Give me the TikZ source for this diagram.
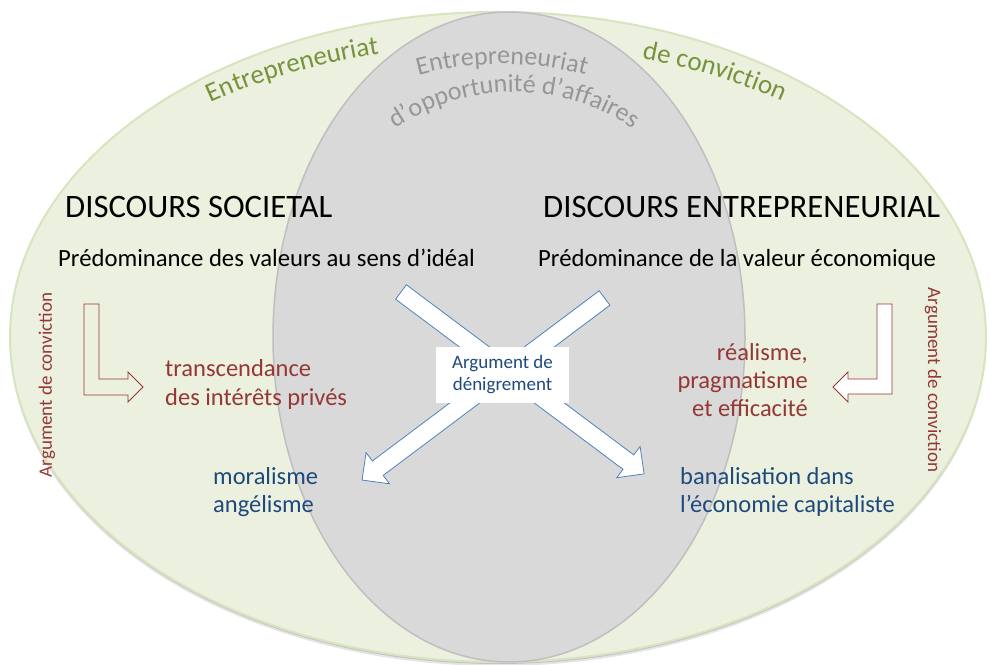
\documentclass[tikz,border=0pt]{standalone}
\usepackage{fontspec}
\setmainfont{Carlito}
\usetikzlibrary{decorations.text}
\definecolor{outerfill}{HTML}{EBF1DE}
\definecolor{outerline}{HTML}{D7E4BD}
\definecolor{innerfill}{HTML}{D9D9D9}
\definecolor{innerline}{HTML}{BFBFBF}
\definecolor{greentxt}{HTML}{77933C}
\definecolor{graytxt}{HTML}{969696}
\definecolor{redtxt}{HTML}{953735}
\definecolor{bluetxt}{HTML}{1F497D}
\definecolor{arrowblue}{HTML}{4F81BD}
\tikzset{
  title/.style={inner sep=0pt, anchor=base west, font=\fontsize{32.7}{38}\selectfont, text=black},
  sub/.style={inner sep=0pt, font=\fontsize{24.7}{29}\selectfont, text=black},
  redlbl/.style={inner sep=0pt, font=\fontsize{24.5}{29}\selectfont, text=redtxt},
  bluelbl/.style={inner sep=0pt, anchor=base west, font=\fontsize{24.5}{29}\selectfont, text=bluetxt},
  vlbl/.style={inner sep=0pt, font=\fontsize{19}{23}\selectfont, text=redtxt},
  blockarrow/.style={draw=arrowblue, fill=white, line width=0.8pt, line join=miter},
  redarrow/.style={draw=redtxt, line width=0.9pt, line join=miter},
  arctext/.style={decorate, decoration={text along path, text align=center, text color=#1}},
}
\begin{document}
\begin{tikzpicture}[x=1pt,y=1pt]
\useasboundingbox (0,0) rectangle (990,664);
\coordinate (oc) at (498,327);
\coordinate (ic) at (509,327);
% shadow
\fill[black, opacity=0.10] (498,323) ellipse [x radius=488, y radius=325];
\fill[black, opacity=0.15] (498,325) ellipse [x radius=488, y radius=325];
% outer ellipse
\draw[fill=outerfill, draw=outerline, line width=2pt] (oc) ellipse [x radius=488, y radius=325];
% inner ellipse
\draw[fill=innerfill, draw=innerline, line width=1.5pt] (ic) ellipse [x radius=236, y radius=325];

% green arched text
\path[arctext=greentxt, decoration={text={|\fontsize{27}{32}\selectfont|Entrepreneuriat}}]
  (oc) ++(135:482 and 292) arc[start angle=135, end angle=97, x radius=482, y radius=292];
\path[arctext=greentxt, decoration={text={|\fontsize{27}{32}\selectfont|de conviction}}]
  (oc) ++(82:482 and 292) arc[start angle=82, end angle=43, x radius=482, y radius=292];
% gray arched text
\coordinate (g1) at (502,280);
\coordinate (g2) at (514,362);
\path[arctext=graytxt, decoration={text={|\fontsize{26}{31}\selectfont|Entrepreneuriat}}]
  (g1) ++(118:320) arc[start angle=118, end angle=62, radius=320];
\path[arctext=graytxt, decoration={text={|\fontsize{26}{31}\selectfont|d’opportunité d’affaires}}]
  (g2) ++(140:210) arc[start angle=140, end angle=40, radius=210];

% titles
\node[title] (ds) at (65,446) {DISCOURS SOCIETAL};
\node[title] (de) at (543,446) {DISCOURS ENTREPRENEURIAL};
\node[sub, anchor=base west] (pv) at (58,397) {Prédominance des valeurs au sens d’idéal};
\node[sub, anchor=base west] (pe) at (538,397) {Prédominance de la valeur économique};

% red L arrows
\draw[redarrow] (84,360) -- (99,360) -- (99,285) -- (128,285) -- (128,292) -- (143,277)
  -- (128,262) -- (128,269) -- (84,269) -- cycle;
\draw[redarrow, fill=white] (892,360) -- (877,360) -- (877,285) -- (848,285) -- (848,292) -- (833,277)
  -- (848,262) -- (848,270) -- (892,270) -- cycle;

% vertical labels
\node[vlbl, rotate=90] (vl) at (47,279) {Argument de conviction};
\node[vlbl, rotate=-90] (vr) at (933,284) {Argument de conviction};

% red texts
\node[redlbl, anchor=base west] (r1) at (165,287) {transcendance};
\node[redlbl, anchor=base west] (r2) at (165,258) {des intérêts privés};
\node[redlbl, anchor=base east] (r3) at (808,303) {réalisme,};
\node[redlbl, anchor=base east] (r4) at (808,275) {pragmatisme};
\node[redlbl, anchor=base east] (r5) at (808,247) {et efficacité};

% blue texts
\node[bluelbl] (b1) at (213,179) {moralisme};
\node[bluelbl] (b2) at (213,151) {angélisme};
\node[bluelbl] (b3) at (680,179) {banalisation dans};
\node[bluelbl] (b4) at (680,151) {l’économie capitaliste};

% crossing block arrows
\coordinate (a1) at (401,372);
\coordinate (a2) at (604.5,366);
\begin{scope}[shift={(a1)}, rotate=-36.8]
  \draw[blockarrow] (0,-9) -- (284,-9) -- (284,-19.5) -- (303.6,0) -- (284,19.5) -- (284,9) -- (0,9) -- cycle;
\end{scope}
\begin{scope}[shift={(a2)}, rotate=216.9]
  \draw[blockarrow] (0,-9) -- (283.5,-9) -- (283.5,-19.5) -- (303.2,0) -- (283.5,19.5) -- (283.5,9) -- (0,9) -- cycle;
\end{scope}

% center box
\node[fill=white, minimum width=133pt, minimum height=56pt, inner sep=0pt, align=center,
  font=\fontsize{19}{22}\selectfont, text=bluetxt] (cb) at (502.5,289) {Argument de\\dénigrement};
\end{tikzpicture}
\end{document}
